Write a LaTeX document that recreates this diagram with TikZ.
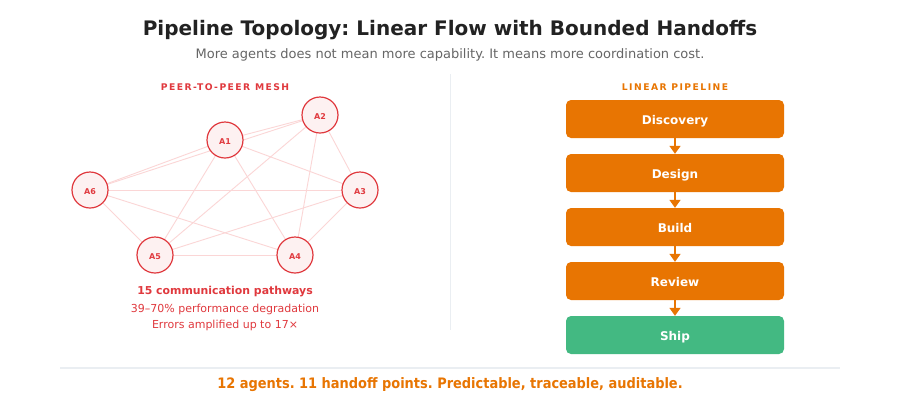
\documentclass[tikz,border=0pt]{standalone}
\usepackage{fontspec}
\setmainfont{DejaVu Sans}
\newfontfamily\spacedfont[LetterSpace=16]{DejaVu Sans}
\newfontfamily\condfont{DejaVu Sans Condensed}
\usetikzlibrary{arrows.meta}
\definecolor{meshred}{HTML}{E0393E}
\definecolor{meshfill}{HTML}{FDF1F1}
\definecolor{edgepink}{HTML}{FBD6D6}
\definecolor{pipeorange}{HTML}{E87502}
\definecolor{shipgreen}{HTML}{43B982}
\definecolor{titlegray}{HTML}{222222}
\definecolor{subgray}{HTML}{666666}
\definecolor{rulegray}{HTML}{EAEEF2}
\tikzset{
  agent/.style={circle, draw=meshred, line width=1.2pt, fill=meshfill, minimum size=36pt, inner sep=0pt, text=meshred, text height=8pt, text depth=0pt, font=\bfseries\fontsize{8}{9}\selectfont},
  meshedge/.style={edgepink, line width=0.9pt},
  stage/.style={rounded corners=5pt, fill=pipeorange, minimum width=218pt, minimum height=38pt, inner sep=0pt, text=white, text height=11pt, text depth=0.2pt, font=\bfseries\fontsize{12}{14}\selectfont},
  flow/.style={pipeorange, line width=1.6pt, -{Triangle[length=8pt,width=11pt]}, shorten >=0pt},
  lbl/.style={yshift=-1.5pt},
}
\begin{document}
\frenchspacing
\begin{tikzpicture}[x=1pt,y=-1pt]
\useasboundingbox (0,0) rectangle (900,400);
\fill[white] (0,0) rectangle (900,400);
% title
\node[lbl, font=\bfseries\fontsize{20}{24}\selectfont, text=titlegray] (title) at (450,29) {Pipeline Topology: Linear Flow with Bounded Handoffs};
\node[lbl, font=\fontsize{13}{15}\selectfont, text=subgray] (sub) at (450,53) {More agents does not mean more capability. It means more coordination cost.};
% dividers
\draw[rulegray, line width=1pt] (450,74) -- (450,330);
\draw[rulegray, line width=1.5pt] (60,368) -- (840,368);
% section headers
\node[lbl, font=\spacedfont\bfseries\fontsize{9.2}{11}\selectfont, text=meshred] (lh) at (225,86) {PEER-TO-PEER MESH};
\node[lbl, font=\spacedfont\bfseries\fontsize{9.2}{11}\selectfont, text=pipeorange] (rh) at (675,86) {LINEAR PIPELINE};
% mesh
\coordinate (c1) at (225,140);
\coordinate (c2) at (320,115);
\coordinate (c3) at (360,190);
\coordinate (c4) at (295,255);
\coordinate (c5) at (155,255);
\coordinate (c6) at (90,190);
\foreach \i/\j in {1/2,1/3,1/4,1/5,1/6,2/3,2/4,2/5,2/6,3/4,3/5,3/6,4/5,4/6,5/6}{
  \draw[meshedge] (c\i) -- (c\j);
}
\node[agent] (A1) at (c1) {A1};
\node[agent] (A2) at (c2) {A2};
\node[agent] (A3) at (c3) {A3};
\node[agent] (A4) at (c4) {A4};
\node[agent] (A5) at (c5) {A5};
\node[agent] (A6) at (c6) {A6};
% left texts
\node[lbl, font=\bfseries\fontsize{10.9}{12}\selectfont, text=meshred] (t1) at (225,290) {15 communication pathways};
\node[lbl, font=\fontsize{11}{12}\selectfont, text=meshred] (t2) at (225,308) {39–70\% performance degradation};
\node[lbl, font=\fontsize{11}{12}\selectfont, text=meshred] (t3) at (225,324) {Errors amplified up to 17×};
% pipeline
\node[stage] (s1) at (675,119) {Discovery};
\node[stage] (s2) at (675,173) {Design};
\node[stage] (s3) at (675,227) {Build};
\node[stage] (s4) at (675,281) {Review};
\node[stage, fill=shipgreen] (s5) at (675,335) {Ship};
\draw[flow] (s1.south) -- (s2.north);
\draw[flow] (s2.south) -- (s3.north);
\draw[flow] (s3.south) -- (s4.north);
\draw[flow] (s4.south) -- (s5.north);
% footer
\node[lbl, font=\condfont\bfseries\fontsize{14.4}{16}\selectfont, text=pipeorange] (foot) at (450,383) {12 agents. 11 handoff points. Predictable, traceable, auditable.};
\end{tikzpicture}
\end{document}
